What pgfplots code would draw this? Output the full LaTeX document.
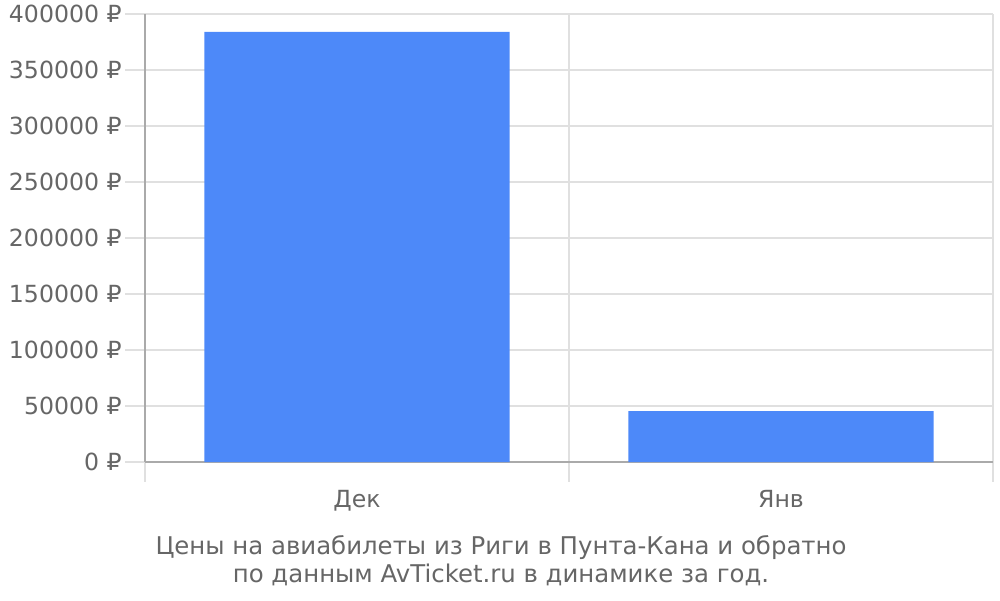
\documentclass[border=0pt]{standalone}
\usepackage{pgfplots}
\pgfplotsset{compat=1.18}
\usepackage{fontspec}
\setmainfont{DejaVu Sans}
\definecolor{barblue}{HTML}{4D89F9}
\definecolor{txtgray}{HTML}{666666}
\definecolor{axgray}{HTML}{AAAAAA}
\definecolor{gridgray}{HTML}{E0E0E0}
\begin{document}
\fontsize{11.8}{14}\selectfont
\begin{tikzpicture}
\path[use as bounding box] (0,0) rectangle (500pt,300pt);
\begin{axis}[
  at={(72.5pt,69pt)}, anchor=south west,
  width=424pt, height=224pt, scale only axis,
  xmin=-0.5, xmax=1.5,
  ymin=0, ymax=400000,
  axis lines=left, axis line style={-, axgray, line width=1pt},
  xtick={-0.5,0.5,1.5}, xticklabels={},
  extra x ticks={0,1}, extra x tick labels={Дек,Янв},
  extra x tick style={grid=none, tick style={draw=none}},
  ytick={0,50000,...,400000},
  yticklabels={0 ₽,50000 ₽,100000 ₽,150000 ₽,200000 ₽,250000 ₽,300000 ₽,350000 ₽,400000 ₽},
  scaled y ticks=false,
  xmajorgrids, ymajorgrids,
  grid style={gridgray, line width=0.6pt},
  tick align=outside, major tick length=10pt,
  tick style={gridgray, line width=0.6pt},
  tick label style={txtgray, font=\fontsize{11.8}{14}\selectfont},
  yticklabel style={inner sep=1.5pt},
  ybar, bar width=0.72,
]
\addplot[fill=barblue, draw=none] coordinates {(0,384000) (1,45500)};
\end{axis}
\node[txtgray, align=center, font=\fontsize{12.2}{14}\selectfont] at (250.5pt,19.5pt)
  {Цены на авиабилеты из Риги в Пунта-Кана и обратно\\по данным AvTicket.ru в динамике за год.};
\end{tikzpicture}
\end{document}
